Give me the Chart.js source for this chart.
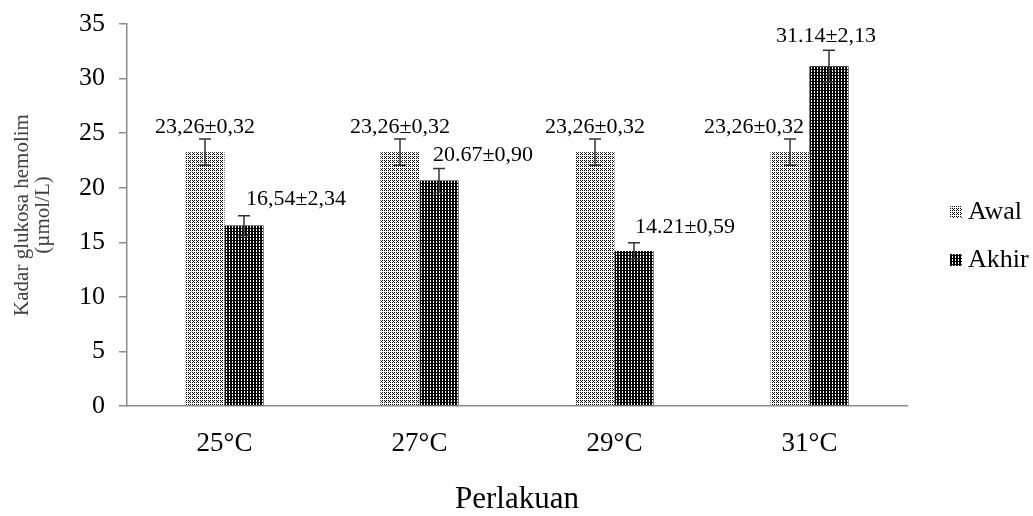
<!DOCTYPE html>
<html>
<head>
<meta charset="utf-8">
<script src="https://cdn.jsdelivr.net/npm/chart.js@4.4.1/dist/chart.umd.min.js"></script>
<style>
  html, body { margin: 0; padding: 0; background: #fff; }
  #wrap { width: 1033px; height: 516px; }
</style>
</head>
<body>
<div id="wrap"><canvas id="grafik" width="1033" height="516"></canvas></div>
<script>
// ---- data ----
const kategori   = ['25°C', '27°C', '29°C', '31°C'];
const awal       = [23.26, 23.26, 23.26, 23.26];
const akhir      = [16.54, 20.67, 14.21, 31.14];
const galatAwal  = [1.2, 1.2, 1.2, 1.2];     // panjang error bar yang tergambar
const galatAkhir = [0.9, 1.1, 0.75, 1.45];
const labelAwal  = ['23,26±0,32', '23,26±0,32', '23,26±0,32', '23,26±0,32'];
const labelAkhir = ['16,54±2,34', '20.67±0,90', '14.21±0,59', '31.14±2,13'];
const yTicks     = [0, 5, 10, 15, 20, 25, 30, 35];

// geseran posisi label (px)
const geserAwal  = [0, 0, 0, -36];
const geserAkhir = [52, 44, 51, -3];
const naikAwal   = [12, 12, 12, 12];
const naikAkhir  = [16, 13, 16, 14];

const SERIF = "'Liberation Serif', 'Times New Roman', serif";

// pola titik ala Excel
function buatPola(gelap) {
  const c = document.createElement('canvas');
  const n = gelap ? 3 : 4;
  c.width = n; c.height = n;
  const g = c.getContext('2d');
  g.fillStyle = gelap ? '#000' : '#fff';
  g.fillRect(0, 0, n, n);
  if (gelap) {
    g.fillStyle = '#fff';
    g.fillRect(1, 1, 1, 2);
  } else {
    g.fillStyle = '#000';
    for (let x = 0; x < n; x++) {
      for (let y = 0; y < n; y++) {
        if ((x % 2 === 0 && y % 2 === 0) || (x === 1 && y === 1)) g.fillRect(x, y, 1, 1);
      }
    }
  }
  return g.createPattern(c, 'repeat');
}

const polaAwal  = buatPola(false);
const polaAkhir = buatPola(true);

// error bar + label nilai
const errorBarPlugin = {
  id: 'errorBar',
  afterDatasetsDraw(chart) {
    const ctx = chart.ctx;
    const ys  = chart.scales.y;
    const galat = [galatAwal, galatAkhir];
    const teks  = [labelAwal, labelAkhir];
    const geser = [geserAwal, geserAkhir];
    const naik  = [naikAwal, naikAkhir];
    ctx.save();
    chart.data.datasets.forEach((ds, i) => {
      const meta = chart.getDatasetMeta(i);
      meta.data.forEach((bar, j) => {
        const v = ds.data[j];
        const yAtas  = ys.getPixelForValue(v + galat[i][j]);
        const yBawah = ys.getPixelForValue(v - galat[i][j]);
        ctx.strokeStyle = '#333';
        ctx.lineWidth = 1.5;
        ctx.beginPath();
        ctx.moveTo(bar.x, yAtas);  ctx.lineTo(bar.x, yBawah);
        ctx.moveTo(bar.x - 6, yAtas);  ctx.lineTo(bar.x + 6, yAtas);
        ctx.moveTo(bar.x - 6, yBawah); ctx.lineTo(bar.x + 6, yBawah);
        ctx.stroke();

        ctx.fillStyle = '#000';
        ctx.font = '22px ' + SERIF;
        ctx.textAlign = 'center';
        ctx.textBaseline = 'middle';
        ctx.fillText(teks[i][j], bar.x + geser[i][j], yAtas - naik[i][j]);
      });
    });
    ctx.restore();
  }
};

// legenda di kanan
const legendaPlugin = {
  id: 'legenda',
  afterDraw(chart) {
    const ctx = chart.ctx;
    const x = chart.chartArea.right + 43;
    const yTengah = 236;
    ctx.save();
    chart.data.datasets.forEach((ds, i) => {
      const y = yTengah - 24 + i * 48;
      ctx.fillStyle = ds.backgroundColor;
      ctx.fillRect(x, y - 6, 12, 12);
      ctx.fillStyle = '#000';
      ctx.font = '26px ' + SERIF;
      ctx.textAlign = 'left';
      ctx.textBaseline = 'middle';
      ctx.fillText(ds.label, x + 18, y);
    });
    ctx.restore();
  }
};

new Chart(document.getElementById('grafik').getContext('2d'), {
  type: 'bar',
  data: {
    labels: kategori,
    datasets: [
      { label: 'Awal',  data: awal,  backgroundColor: polaAwal,  borderWidth: 0,
        categoryPercentage: 0.4, barPercentage: 1.0 },
      { label: 'Akhir', data: akhir, backgroundColor: polaAkhir, borderWidth: 0,
        categoryPercentage: 0.4, barPercentage: 1.0 }
    ]
  },
  options: {
    responsive: false,
    animation: false,
    layout: { padding: { left: 0, right: 126, top: 24, bottom: 0 } },
    plugins: {
      legend:  { display: false },
      tooltip: { enabled: false }
    },
    scales: {
      x: {
        grid:   { display: true, drawOnChartArea: false, drawTicks: false },
        border: { color: '#8c8c8c', width: 1.5 },
        ticks:  { color: '#000', font: { family: SERIF, size: 27 }, padding: 22 },
        title:  { display: true, text: 'Perlakuan', color: '#000',
                  font: { family: SERIF, size: 31 }, padding: { top: 0, bottom: -2 } },
        afterFit: s => { s.height = 110; }
      },
      y: {
        min: 0, max: 35,
        afterBuildTicks: s => { s.ticks = yTicks.map(v => ({ value: v })); },
        grid:   { drawOnChartArea: false, tickLength: 8, color: '#8c8c8c', lineWidth: 1.5 },
        border: { color: '#8c8c8c', width: 1.5 },
        ticks:  { color: '#000', font: { family: SERIF, size: 26, lineHeight: 0.75 }, padding: 14 },
        title:  { display: true, text: ['Kadar glukosa hemolim', '(µmol/L)'], color: '#404040',
                  font: { family: SERIF, size: 21, lineHeight: 1.0 }, padding: { top: 12, bottom: 0 } },
        afterFit: s => { s.width = 127; }
      }
    }
  },
  plugins: [errorBarPlugin, legendaPlugin]
});
</script>
</body>
</html>
